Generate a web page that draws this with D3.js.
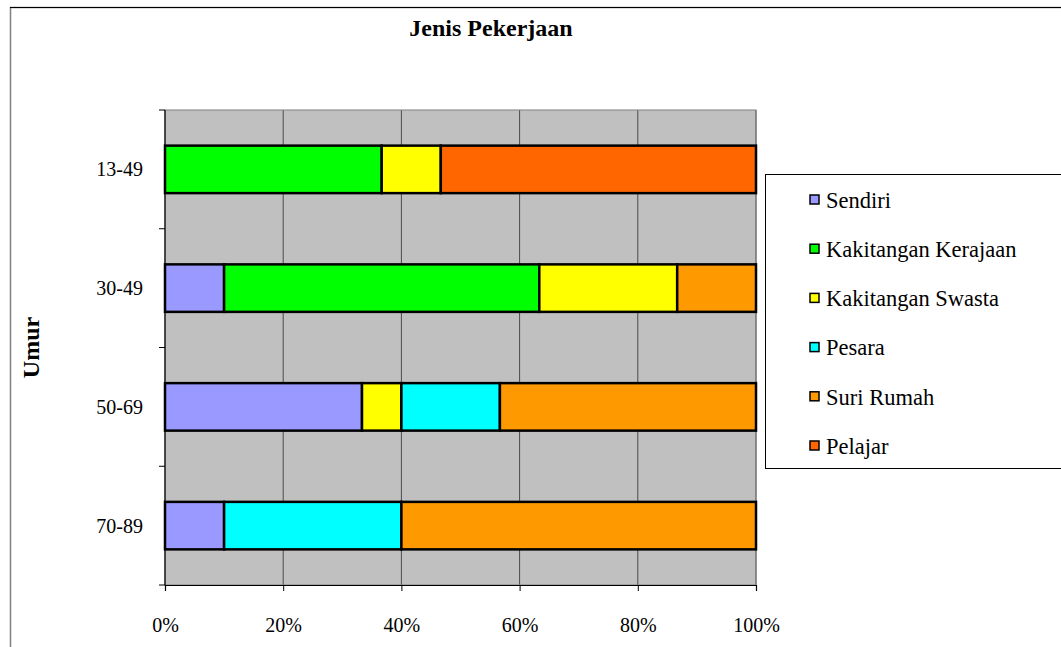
<!DOCTYPE html>
<html>
<head>
<meta charset="utf-8">
<script src="https://cdn.jsdelivr.net/npm/d3@7"></script>
<style>
  html, body { margin: 0; padding: 0; background: #fff; }
  svg { display: block; font-family: "Liberation Serif", "Times New Roman", serif; }
</style>
</head>
<body>
<svg id="chart" width="1061" height="647"></svg>
<script>
// Age groups, top to bottom
const categories = ["13-49", "30-49", "50-69", "70-89"];

// Respondent counts per occupation, one value per age group
const sendiri      = [0, 3, 10, 3];
const kerajaan     = [11, 16, 0, 0];
const swasta       = [3, 7, 2, 0];
const pesara       = [0, 0, 5, 9];
const suriRumah    = [0, 4, 13, 18];
const pelajar      = [16, 0, 0, 0];

const seriesNames  = ["Sendiri", "Kakitangan Kerajaan", "Kakitangan Swasta", "Pesara", "Suri Rumah", "Pelajar"];
const seriesValues = [sendiri, kerajaan, swasta, pesara, suriRumah, pelajar];
const seriesColors = ["#9999FF", "#00FF00", "#FFFF00", "#00FFFF", "#FF9900", "#FF6600"];

const xTickValues = [0, 0.2, 0.4, 0.6, 0.8, 1];

const titleText = "Jenis Pekerjaan";
const yTitle = "Umur";

// Build rows for d3.stack
const rows = categories.map((c, i) => {
  const r = { cat: c };
  seriesNames.forEach((s, j) => { r[s] = seriesValues[j][i]; });
  return r;
});

const stacked = d3.stack()
  .keys(seriesNames)
  .offset(d3.stackOffsetExpand)(rows);

const svg = d3.select("#chart");

// Outer chart frame
svg.append("rect")
  .attr("x", 10.5).attr("y", 7.5)
  .attr("width", 1100).attr("height", 700)
  .attr("fill", "#fff")
  .attr("stroke", "#808080").attr("stroke-width", 1.5);
svg.append("line")
  .attr("x1", 10).attr("x2", 1061).attr("y1", 7.5).attr("y2", 7.5)
  .attr("stroke", "#000").attr("stroke-width", 1.2);

const plot = { left: 165, right: 756, top: 110, bottom: 585 };

const x = d3.scaleLinear().domain([0, 1]).range([plot.left, plot.right]);
const y = d3.scaleBand().domain(categories).range([plot.top, plot.bottom]).paddingInner(0.6).paddingOuter(0.3);
const yOuter = d3.scaleBand().domain(categories).range([plot.top, plot.bottom]);

// Plot background
svg.append("rect")
  .attr("x", plot.left).attr("y", plot.top)
  .attr("width", plot.right - plot.left).attr("height", plot.bottom - plot.top)
  .attr("fill", "#C0C0C0");

// Vertical gridlines
svg.append("g").selectAll("line")
  .data(xTickValues.slice(1))
  .join("line")
  .attr("x1", d => x(d)).attr("x2", d => x(d))
  .attr("y1", plot.top).attr("y2", plot.bottom)
  .attr("stroke", "#4a4a4a").attr("stroke-width", 1);

// Plot border
svg.append("rect")
  .attr("x", plot.left).attr("y", plot.top)
  .attr("width", plot.right - plot.left).attr("height", plot.bottom - plot.top)
  .attr("fill", "none").attr("stroke", "#808080").attr("stroke-width", 1);

// Stacked bars
svg.append("g").selectAll("g")
  .data(stacked)
  .join("g")
  .attr("fill", (d, i) => seriesColors[i])
  .selectAll("rect")
  .data(d => d.filter(p => p[1] - p[0] > 0))
  .join("rect")
  .attr("x", d => x(d[0]))
  .attr("width", d => x(d[1]) - x(d[0]))
  .attr("y", d => y(d.data.cat))
  .attr("height", y.bandwidth())
  .attr("stroke", "#000").attr("stroke-width", 2.5);

// X axis
const xAxis = d3.axisBottom(x)
  .tickValues(xTickValues)
  .tickFormat(d3.format(".0%"))
  .tickSize(6)
  .tickPadding(27);
const gx = svg.append("g").attr("transform", `translate(0,${plot.bottom})`).call(xAxis);
gx.attr("font-family", "Liberation Serif").attr("font-size", 20);
gx.select(".domain").attr("stroke", "#000").attr("stroke-width", 1.2);
gx.selectAll(".tick line").attr("stroke", "#000");
gx.selectAll("text").attr("fill", "#000");

// Y axis (ticks at band boundaries, labels at band centers)
const gy = svg.append("g").attr("transform", `translate(${plot.left},0)`);
gy.append("line")
  .attr("x1", 0).attr("x2", 0).attr("y1", plot.top).attr("y2", plot.bottom)
  .attr("stroke", "#000").attr("stroke-width", 1.2);
const bounds = categories.map(c => yOuter(c)).concat([plot.bottom]);
gy.selectAll("line.tick")
  .data(bounds)
  .join("line")
  .attr("class", "tick")
  .attr("x1", -6).attr("x2", 0)
  .attr("y1", d => d).attr("y2", d => d)
  .attr("stroke", "#000");
gy.selectAll("text")
  .data(categories)
  .join("text")
  .attr("x", -22)
  .attr("y", d => y(d) + y.bandwidth() / 2)
  .attr("dy", "0.35em")
  .attr("text-anchor", "end")
  .attr("font-size", 20)
  .text(d => d);

// Title
svg.append("text")
  .attr("x", 491).attr("y", 36)
  .attr("text-anchor", "middle")
  .attr("font-size", 24).attr("font-weight", "bold")
  .text(titleText);

// Y title
svg.append("text")
  .attr("transform", `translate(39,${(plot.top + plot.bottom) / 2}) rotate(-90)`)
  .attr("text-anchor", "middle")
  .attr("font-size", 24).attr("font-weight", "bold")
  .text(yTitle);

// Legend
const legend = svg.append("g");
legend.append("rect")
  .attr("x", 765.5).attr("y", 174.5)
  .attr("width", 320).attr("height", 294)
  .attr("fill", "#fff").attr("stroke", "#000").attr("stroke-width", 1);
const item = legend.selectAll("g.item")
  .data(seriesNames)
  .join("g")
  .attr("class", "item")
  .attr("transform", (d, i) => `translate(810,${200 + i * 49.2})`);
item.append("rect")
  .attr("x", 0).attr("y", -5)
  .attr("width", 9).attr("height", 9)
  .attr("fill", (d, i) => seriesColors[i])
  .attr("stroke", "#000").attr("stroke-width", 1.5);
item.append("text")
  .attr("x", 16).attr("y", 0)
  .attr("dy", "0.35em")
  .attr("font-size", 22.5)
  .text(d => d);
</script>
</body>
</html>
